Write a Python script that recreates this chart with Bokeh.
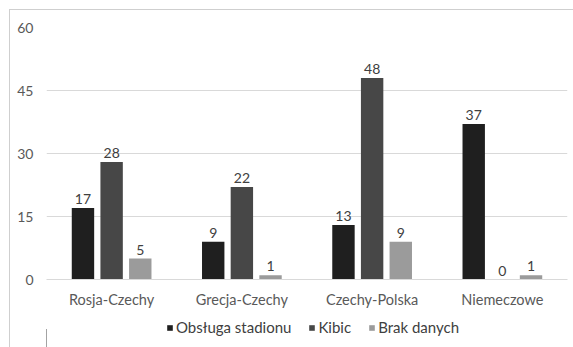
from bokeh.plotting import figure
from bokeh.layouts import column
from bokeh.models import (FactorRange, Range1d, ColumnDataSource, Legend, LegendItem,
                          FixedTicker)
from bokeh.transform import dodge
from bokeh.core.properties import value
from bokeh.embed import file_html
from bokeh.resources import INLINE

categories = ["Rosja-Czechy", "Grecja-Czechy", "Czechy-Polska", "Niemeczowe"]
series_names = ["Obsługa stadionu", "Kibic", "Brak danych"]
obsluga = [17, 9, 13, 37]
kibic = [28, 22, 48, 0]
brak = [5, 1, 9, 1]
y_ticks = [0, 15, 30, 45, 60]

colors = ["#1f1f1f", "#474747", "#9b9b9b"]
offsets = [-0.22, 0.0, 0.22]
FONT = "Lato"
TEXT_COLOR = "#404040"
AXIS_COLOR = "#595959"

src = ColumnDataSource(dict(cat=categories, s0=obsluga, s1=kibic, s2=brak,
                            l0=[str(v) for v in obsluga],
                            l1=[str(v) for v in kibic],
                            l2=[str(v) for v in brak]))

p = figure(x_range=FactorRange(*categories), y_range=Range1d(0, 60),
           width=563, height=300, output_backend="svg", toolbar_location=None,
           min_border_left=36, min_border_right=6, min_border_top=17,
           min_border_bottom=29)
p.outline_line_color = None
p.background_fill_color = "white"
p.border_fill_color = "white"

for i, off in enumerate(offsets):
    xd = dodge("cat", off, range=p.x_range)
    p.vbar(x=xd, top=f"s{i}", width=0.172, source=src,
           fill_color=colors[i], line_color=None)
    p.text(x=xd, y=f"s{i}", text=f"l{i}", source=src,
           text_align="center", text_baseline="bottom", y_offset=-4,
           text_font=value(FONT), text_font_size="14px", text_color=TEXT_COLOR)

# y axis
p.yaxis.ticker = FixedTicker(ticks=y_ticks)
p.yaxis.axis_line_color = None
p.yaxis.major_tick_line_color = None
p.yaxis.major_tick_out = 0
p.yaxis.minor_tick_line_color = None
p.yaxis.major_label_standoff = 13
p.yaxis.major_label_text_font = FONT
p.yaxis.major_label_text_font_size = "14px"
p.yaxis.major_label_text_color = AXIS_COLOR

# x axis
p.xaxis.axis_line_color = "#d9d9d9"
p.xaxis.major_tick_line_color = None
p.xaxis.major_tick_out = 0
p.xaxis.minor_tick_line_color = None
p.xaxis.major_label_standoff = 11
p.xaxis.major_label_text_font = FONT
p.xaxis.major_label_text_font_size = "14.5px"
p.xaxis.major_label_text_color = AXIS_COLOR

p.xgrid.grid_line_color = None
p.ygrid.grid_line_color = "#d9d9d9"
p.ygrid.ticker = FixedTicker(ticks=y_ticks)

# legend strip below the chart; its frame lines up with the chart frame,
# and the swatch bars sit outside the visible range
leg = figure(x_range=Range1d(0, 1), y_range=Range1d(0, 1), width=563, height=37,
             output_backend="svg", toolbar_location=None,
             x_axis_location=None, y_axis_location=None,
             min_border_left=36, min_border_right=6, min_border_top=0, min_border_bottom=0)
leg.grid.grid_line_color = None
leg.outline_line_color = None
leg.background_fill_color = "white"
leg.border_fill_color = "white"
swatches = [leg.vbar(x=[-10], top=[0.5], width=0.1, fill_color=c, line_color=None)
            for c in colors]
legend = Legend(items=[LegendItem(label=n, renderers=[r]) for n, r in zip(series_names, swatches)],
                orientation="horizontal", location=(120, 11),
                glyph_width=7, glyph_height=7, label_standoff=3, spacing=17,
                padding=0, margin=0, border_line_color=None, background_fill_alpha=0,
                label_text_font=FONT, label_text_font_size="15px",
                label_text_color=TEXT_COLOR, label_height=15)
leg.add_layout(legend, "center")

chart = column(p, leg, spacing=0, margin=(9, 0, 0, 9),
               styles={"border-top": "1px solid #cfcfcf", "border-left": "1px solid #cfcfcf",
                       "background-color": "white"})

open("out.html", "w").write(file_html(chart, INLINE))
